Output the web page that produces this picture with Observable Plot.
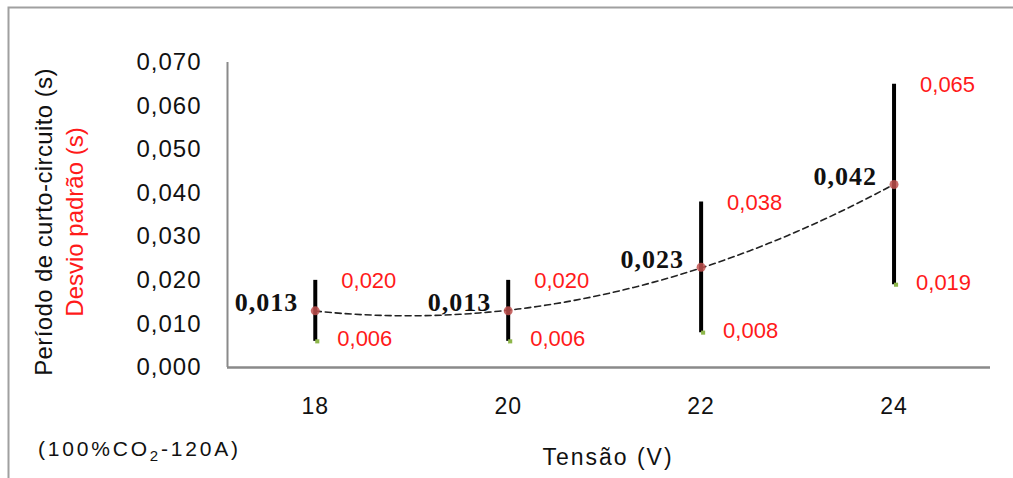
<!DOCTYPE html>
<html>
<head>
<meta charset="utf-8">
<script src="https://cdn.jsdelivr.net/npm/d3@7"></script>
<script src="https://cdn.jsdelivr.net/npm/@observablehq/plot@0.6"></script>
<style>
  html, body { margin: 0; padding: 0; background: #fff; }
  svg { display: block; }
  g[aria-label="y-axis tick label"] text { letter-spacing: 1px; }
  g[aria-label="x-axis tick label"] text { letter-spacing: 1px; }
</style>
</head>
<body>
<div id="chart"></div>
<script>
// Data
const voltages = [18, 20, 22, 24];
const means    = [0.013, 0.013, 0.023, 0.042];
const maxs     = [0.020, 0.020, 0.038, 0.065];
const mins     = [0.006, 0.006, 0.008, 0.019];
const yTicks   = [0, 0.01, 0.02, 0.03, 0.04, 0.05, 0.06, 0.07];
const xTicks   = [18, 20, 22, 24];
const xDomain  = [17.09, 25];
const yDomain  = [0, 0.07];

const fmt = v => v.toFixed(3).replace(".", ",");

const rows = voltages.map((v, i) => ({x: v, mean: means[i], max: maxs[i], min: mins[i]}));

// Quadratic (order-2) least squares trendline of the means, as in the spreadsheet
function quadFit(xs, ys) {
  const n = xs.length;
  let S = [0,0,0,0,0], T = [0,0,0];
  for (let i = 0; i < n; i++) {
    for (let k = 0; k < 5; k++) S[k] += Math.pow(xs[i], k);
    for (let k = 0; k < 3; k++) T[k] += ys[i] * Math.pow(xs[i], k);
  }
  const A = [[S[0],S[1],S[2],T[0]],[S[1],S[2],S[3],T[1]],[S[2],S[3],S[4],T[2]]];
  for (let c = 0; c < 3; c++) {
    for (let r = c + 1; r < 3; r++) {
      const f = A[r][c] / A[c][c];
      for (let k = c; k < 4; k++) A[r][k] -= f * A[c][k];
    }
  }
  const coef = [0,0,0];
  for (let r = 2; r >= 0; r--) {
    let s = A[r][3];
    for (let k = r + 1; k < 3; k++) s -= A[r][k] * coef[k];
    coef[r] = s / A[r][r];
  }
  return x => coef[0] + coef[1] * x + coef[2] * x * x;
}
const fit = quadFit(voltages, means);
const trend = d3.range(0, 61).map(i => {
  const x = voltages[0] + (voltages[voltages.length - 1] - voltages[0]) * i / 60;
  return {x, y: fit(x)};
});

const sans = "'Liberation Sans', Arial, sans-serif";
const serif = "'Liberation Serif', 'Times New Roman', serif";

const chart = Plot.plot({
  width: 1013,
  height: 478,
  marginLeft: 227,
  marginRight: 23,
  marginTop: 62,
  marginBottom: 111,
  style: {fontFamily: sans, background: "white", overflow: "visible"},
  x: {domain: xDomain},
  y: {domain: yDomain},
  marks: [
    Plot.axisX({ticks: xTicks, tickSize: 0, tickPadding: 30, fontSize: 23, label: null, tickFormat: d => String(d), fill: "#111"}),
    Plot.axisY({ticks: yTicks, tickSize: 0, tickPadding: 26, fontSize: 24, label: null, tickFormat: fmt, fill: "#111"}),
    Plot.ruleX([xDomain[0]], {stroke: "#8a8a8a", strokeWidth: 2}),
    Plot.ruleY([yDomain[0]], {stroke: "#8a8a8a", strokeWidth: 2.5}),
    Plot.line(trend, {x: "x", y: "y", stroke: "#222", strokeWidth: 1.6, strokeDasharray: "6,4"}),
    Plot.ruleX(rows, {x: "x", y1: "min", y2: "max", stroke: "#000", strokeWidth: 4}),
    Plot.dot(rows, {x: "x", y: "min", symbol: "square", r: 2.3, fill: "#8db64a", dx: 2}),
    Plot.dot(rows, {x: "x", y: "mean", r: 4.5, fill: "#c0504d", fillOpacity: 0.85}),
    Plot.text(rows, {x: "x", y: "mean", text: d => fmt(d.mean), textAnchor: "end", dx: -17, dy: -8,
      fontFamily: serif, fontWeight: "bold", fontSize: 26, fill: "#111", className: "meanlab"}),
    Plot.text(rows, {x: "x", y: "max", text: d => fmt(d.max), textAnchor: "start", dx: 26, dy: 1,
      fontSize: 22, fill: "#ff1a1a"}),
    Plot.text(rows, {x: "x", y: "min", text: d => fmt(d.min), textAnchor: "start", dx: 22, dy: -2,
      fontSize: 22, fill: "#ff1a1a"})
  ]
});

const svg = d3.select(chart);
svg.selectAll(".meanlab text").attr("letter-spacing", "1px");

// Outer frame
svg.append("path")
  .attr("d", "M8.5,478 L8.5,7.5 L1013,7.5")
  .attr("fill", "none").attr("stroke", "#a0a0a0").attr("stroke-width", 2);

// Two-line, two-colour y axis title
svg.append("text")
  .attr("transform", "translate(52,222) rotate(-90)")
  .attr("text-anchor", "middle").attr("font-family", sans).attr("font-size", 24)
  .attr("letter-spacing", "0.4px")
  .attr("fill", "#111").text("Período de curto-circuito (s)");
svg.append("text")
  .attr("transform", "translate(83,222) rotate(-90)")
  .attr("text-anchor", "middle").attr("font-family", sans).attr("font-size", 24)
  .attr("fill", "#ff1a1a").text("Desvio padrão (s)");

// x axis title
svg.append("text")
  .attr("x", 608).attr("y", 465)
  .attr("text-anchor", "middle").attr("font-family", sans).attr("font-size", 23)
  .attr("letter-spacing", "2px")
  .attr("fill", "#111").text("Tensão (V)");

// condition note
const note = svg.append("text")
  .attr("x", 38).attr("y", 456)
  .attr("text-anchor", "start")
  .attr("font-family", sans).attr("font-size", 21).attr("letter-spacing", "2.8px").attr("fill", "#111");
note.append("tspan").text("(100%CO");
note.append("tspan").attr("font-size", 15).attr("dy", 5).text("2");
note.append("tspan").attr("dy", -5).text("-120A)");

document.getElementById("chart").appendChild(chart);
</script>
</body>
</html>
